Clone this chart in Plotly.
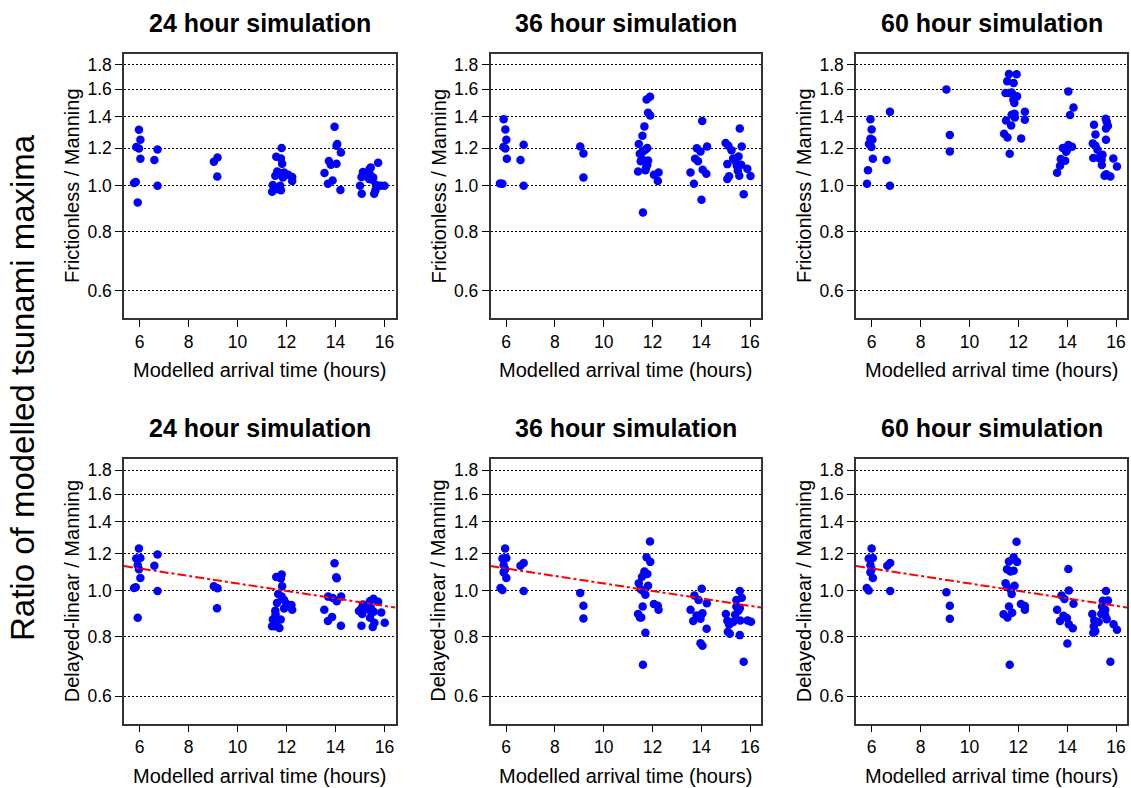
import numpy as np
import plotly.graph_objects as go

# ---------------- data ----------------
titles = ["24 hour simulation", "36 hour simulation", "60 hour simulation"]
row_labels = ["Frictionless / Manning", "Delayed-linear / Manning"]
x_label = "Modelled arrival time (hours)"
big_label = "Ratio of modelled tsunami maxima"
y_ticks = [0.6, 0.8, 1.0, 1.2, 1.4, 1.6, 1.8]
y_tick_text = ["0.6", "0.8", "1.0", "1.2", "1.4", "1.6", "1.8"]
x_ticks = [6, 8, 10, 12, 14, 16]

# trend line (log10 ratio = a + b * hours), bottom row
trend_a = 0.0948
trend_b = -0.00789

fric24_x = [5.97, 6.03, 5.86, 5.97, 6.03, 5.77, 5.84, 5.92, 6.60, 6.73, 6.73,
            9.03, 9.18, 9.17,
            11.80, 11.58, 11.77, 11.82, 11.62, 11.54, 11.71, 11.90, 11.85, 12.07, 12.23, 12.23,
            11.44, 11.41, 11.61, 11.74, 11.77,
            13.96, 14.04, 14.07, 14.22, 13.73, 13.81, 14.04, 13.55, 13.69, 13.88, 14.20,
            15.74, 15.44, 15.39, 15.12, 15.06, 15.16, 15.41, 15.54, 15.37, 15.00, 15.07,
            15.58, 15.63, 15.65, 15.84, 16.00, 15.50]
fric24_y = [1.313, 1.251, 1.207, 1.199, 1.140, 1.013, 1.018, 0.922, 1.133, 1.193, 1.000,
            1.124, 1.148, 1.046,
            1.201, 1.152, 1.142, 1.113, 1.072, 1.050, 1.064, 1.067, 1.041, 1.055, 1.043, 1.023,
            1.003, 0.971, 0.984, 1.000, 0.978,
            1.332, 1.215, 1.225, 1.176, 1.128, 1.108, 1.113, 1.064, 1.010, 1.026, 0.979,
            1.118, 1.093, 1.085, 1.069, 1.043, 1.050, 1.055, 1.041, 1.033, 1.000, 0.962,
            0.962, 0.978, 1.005, 1.000, 1.000, 1.030]

fric36_x = [5.90, 5.97, 6.01, 5.89, 5.97, 6.03, 5.75, 5.85, 6.59, 6.72, 6.72,
            9.04, 9.17, 9.17,
            11.90, 11.76, 11.82, 11.91, 11.67, 11.59, 11.44, 11.79, 11.48, 11.61, 11.71,
            11.57, 11.52, 11.82, 11.79, 11.74, 11.71, 11.41, 12.06, 12.25, 12.22, 11.61,
            14.04, 14.24, 13.82, 13.97, 13.75, 13.87, 14.06, 14.21, 13.56, 13.70, 14.01,
            15.58, 15.00, 15.11, 15.24, 15.66, 15.53, 15.31, 15.40, 15.07, 15.46, 15.64,
            15.50, 15.89, 16.02, 15.14, 15.07, 15.56, 15.74]
fric36_y = [1.383, 1.315, 1.251, 1.207, 1.199, 1.140, 1.011, 1.010, 1.133, 1.221, 1.000,
            1.211, 1.170, 1.041,
            1.543, 1.522, 1.427, 1.408, 1.335, 1.275, 1.225, 1.201, 1.168, 1.182, 1.191,
            1.139, 1.126, 1.131, 1.107, 1.093, 1.078, 1.072, 1.055, 1.067, 1.023, 0.878,
            1.370, 1.211, 1.200, 1.182, 1.140, 1.127, 1.081, 1.060, 1.067, 1.010, 0.934,
            1.322, 1.231, 1.215, 1.188, 1.211, 1.153, 1.142, 1.126, 1.111, 1.102, 1.108,
            1.076, 1.086, 1.048, 1.047, 1.033, 1.050, 0.960]

fric60_x = [5.95, 6.00, 5.95, 6.03, 5.89, 5.99, 6.05, 5.85, 5.81, 6.61, 6.75, 6.75,
            9.06, 9.20, 9.20,
            11.62, 11.93, 11.55, 11.81, 11.48, 11.62, 11.73, 11.95, 11.80, 11.84, 11.73,
            11.85, 12.27, 11.86, 11.50, 12.27, 11.71, 11.42, 11.56, 12.12, 11.65,
            14.05, 14.26, 14.12, 14.05, 14.20, 13.82, 14.00, 13.96, 13.74, 13.92, 13.71, 13.59,
            15.10, 15.16, 15.05, 15.16, 15.24, 15.58, 15.62, 15.67, 15.59, 15.59, 15.07,
            15.29, 15.45, 15.41, 15.42, 15.53, 15.60, 15.77, 15.89, 16.04]
fric60_y = [1.383, 1.315, 1.257, 1.251, 1.225, 1.207, 1.140, 1.078, 1.010, 1.133, 1.434, 1.000,
            1.598, 1.280, 1.182,
            1.722, 1.720, 1.664, 1.648, 1.570, 1.570, 1.575, 1.545, 1.520, 1.496, 1.413,
            1.419, 1.434, 1.394, 1.374, 1.379, 1.341, 1.288, 1.265, 1.259, 1.169,
            1.583, 1.464, 1.411, 1.219, 1.209, 1.201, 1.191, 1.180, 1.139, 1.129, 1.102, 1.065,
            1.346, 1.284, 1.229, 1.215, 1.191, 1.386, 1.366, 1.339, 1.322, 1.251, 1.144,
            1.144, 1.163, 1.135, 1.106, 1.050, 1.057, 1.046, 1.142, 1.098]

dl24_x = [5.97, 5.86, 6.03, 5.92, 5.97, 6.03, 5.77, 5.84, 5.92, 6.60, 6.73, 6.73,
          9.03, 9.18, 9.16,
          11.58, 11.80, 11.77, 11.82, 11.66, 11.80, 11.90, 12.01, 12.20, 12.23, 11.90,
          11.61, 11.54, 11.55, 11.44, 11.61, 11.76, 11.41, 11.55, 11.71,
          13.96, 14.03, 14.05, 13.70, 13.89, 14.23, 14.05, 13.54, 13.86, 13.69, 14.22,
          15.55, 15.74, 15.41, 15.12, 15.06, 14.96, 15.27, 15.45, 15.56, 15.41, 15.87,
          15.59, 15.52, 15.06, 16.01, 15.01, 15.25, 15.36, 15.09]
dl24_y = [1.229, 1.171, 1.174, 1.135, 1.111, 1.065, 1.015, 1.018, 0.878, 1.131, 1.194, 1.000,
          1.023, 1.013, 0.920,
          1.070, 1.083, 1.062, 1.023, 0.986, 0.973, 0.957, 0.939, 0.934, 0.913, 0.919,
          0.943, 0.909, 0.893, 0.871, 0.866, 0.871, 0.843, 0.843, 0.835,
          1.144, 1.069, 1.064, 0.973, 0.966, 0.973, 0.951, 0.913, 0.881, 0.864, 0.845,
          0.963, 0.949, 0.953, 0.937, 0.919, 0.907, 0.927, 0.919, 0.904, 0.878, 0.901,
          0.857, 0.840, 0.845, 0.857, 0.909, 0.929, 0.913, 0.894]

dl36_x = [5.96, 5.85, 6.01, 5.90, 5.96, 5.90, 6.01, 5.77, 5.85, 6.59, 6.72, 6.72,
          9.04, 9.17, 9.17,
          11.90, 11.76, 11.91, 11.67, 11.79, 11.57, 11.44, 11.82, 11.52, 11.61, 11.71,
          11.60, 11.41, 11.49, 11.54, 12.06, 12.25, 12.22, 11.71, 11.61,
          14.02, 13.72, 13.89, 14.23, 13.56, 14.05, 13.81, 13.97, 13.67, 14.22, 13.97, 14.05,
          15.01, 15.07, 15.14, 15.09, 15.17, 15.31, 15.44, 15.39, 15.44, 15.58, 15.66,
          15.58, 15.52, 15.60, 15.58, 15.74, 15.90, 16.04, 15.22]
dl36_y = [1.229, 1.171, 1.174, 1.135, 1.111, 1.095, 1.065, 1.015, 1.005, 1.131, 1.146, 1.000,
          0.990, 0.931, 0.875,
          1.272, 1.178, 1.152, 1.099, 1.086, 1.072, 1.038, 1.026, 1.008, 1.000, 0.982,
          0.927, 0.894, 0.879, 0.879, 0.939, 0.913, 0.931, 0.816, 0.699,
          1.011, 0.978, 0.957, 0.942, 0.913, 0.898, 0.888, 0.874, 0.864, 0.832, 0.776, 0.766,
          0.894, 0.865, 0.850, 0.820, 0.812, 0.860, 0.927, 0.891, 0.957, 1.000, 0.968,
          0.920, 0.909, 0.866, 0.807, 0.709, 0.866, 0.861, 0.857]

dl60_x = [6.00, 5.88, 6.05, 5.95, 5.95, 6.00, 6.05, 5.80, 5.88, 6.64, 6.76, 6.76,
          9.06, 9.20, 9.20,
          11.93, 11.81, 11.62, 11.95, 11.54, 11.68, 11.81, 11.48, 11.85, 11.54, 11.73,
          11.62, 11.40, 11.56, 11.75, 12.11, 12.27, 12.27, 11.65, 11.70,
          14.05, 14.07, 13.77, 13.89, 14.26, 13.59, 13.85, 13.99, 13.71, 14.07, 14.23, 14.01,
          15.03, 15.11, 15.09, 15.07, 15.15, 15.29, 15.43, 15.46, 15.59, 15.67, 15.56,
          15.50, 15.62, 15.56, 15.77, 15.90, 16.04, 15.40]
dl60_y = [1.229, 1.171, 1.174, 1.135, 1.095, 1.111, 1.065, 1.015, 1.002, 1.131, 1.146, 1.000,
          0.994, 0.931, 0.874,
          1.270, 1.178, 1.154, 1.152, 1.111, 1.099, 1.104, 1.038, 1.026, 1.021, 0.986,
          0.927, 0.893, 0.879, 0.900, 0.939, 0.930, 0.913, 0.699, 1.005,
          1.113, 1.002, 0.978, 0.962, 0.940, 0.913, 0.887, 0.877, 0.864, 0.851, 0.834, 0.775,
          0.894, 0.866, 0.842, 0.816, 0.822, 0.860, 0.927, 0.954, 1.000, 0.955, 0.913,
          0.901, 0.872, 0.888, 0.709, 0.851, 0.828, 0.894]

panels = [
    (fric24_x, fric24_y), (fric36_x, fric36_y), (fric60_x, fric60_y),
    (dl24_x, dl24_y), (dl36_x, dl36_y), (dl60_x, dl60_y),
]

# ---------------- layout ----------------
W, H = 1131, 788
FONT = "Liberation Sans, Arial, Helvetica, sans-serif"
col_px = [(124, 395.5), (490.5, 761), (856, 1127)]
row_px = [(54, 318), (459, 723.5)]
x_range = [5.36, 16.45]
y_range = [-0.2796, 0.2785]
TICK_SIZE = 17.5

fig = go.Figure()
layout = dict(
    width=W, height=H,
    margin=dict(l=0, r=0, t=0, b=0),
    paper_bgcolor="white", plot_bgcolor="white",
    showlegend=False,
    font=dict(family=FONT, color="black"),
)
annotations = []

for i, (xs, ys) in enumerate(panels):
    r, c = divmod(i, 3)
    n = i + 1
    xa = "xaxis" if n == 1 else f"xaxis{n}"
    ya = "yaxis" if n == 1 else f"yaxis{n}"
    xref = "x" if n == 1 else f"x{n}"
    yref = "y" if n == 1 else f"y{n}"
    x0, x1 = col_px[c]
    y0, y1 = row_px[r]
    layout[xa] = dict(
        domain=[x0 / W, x1 / W], anchor=yref, range=x_range,
        tickmode="array", tickvals=x_ticks, ticks="outside", ticklen=7,
        tickwidth=1, tickcolor="black", showgrid=False, zeroline=False,
        showline=True, mirror=True, linecolor="#333333", linewidth=1.5,
        tickfont=dict(size=TICK_SIZE, family=FONT, color="black"),
    )
    layout[ya] = dict(
        domain=[1 - y1 / H, 1 - y0 / H], anchor=xref, type="log", range=y_range,
        tickmode="array", tickvals=y_ticks, ticktext=y_tick_text,
        ticks="outside", ticklen=7, tickwidth=1, tickcolor="black",
        showgrid=True, gridcolor="black", gridwidth=1, griddash="2px,2px",
        zeroline=False, showline=True, mirror=True, linecolor="#333333", linewidth=1.5,
        tickfont=dict(size=TICK_SIZE, family=FONT, color="black"),
    )
    fig.add_trace(go.Scatter(
        x=xs, y=ys, mode="markers", xaxis=xref, yaxis=yref,
        marker=dict(color="#0000FF", size=8.5, line=dict(width=0)),
        hoverinfo="skip",
    ))
    if r == 1:
        lx = np.array(x_range)
        ly = 10 ** (trend_a + trend_b * lx)
        fig.add_trace(go.Scatter(
            x=lx, y=ly, mode="lines", xaxis=xref, yaxis=yref,
            line=dict(color="#FF0000", width=2, dash="9px,3px,3px,3px"),
            hoverinfo="skip",
        ))
    cx = (x0 + x1) / 2 / W
    # panel title
    annotations.append(dict(
        text=f"<b>{titles[c]}</b>", x=cx, y=1 - (y0 - 31) / H,
        xref="paper", yref="paper", showarrow=False,
        xanchor="center", yanchor="middle",
        font=dict(size=25, family=FONT, color="black"),
    ))
    # x label
    annotations.append(dict(
        text=x_label, x=cx, y=1 - (y1 + 52) / H,
        xref="paper", yref="paper", showarrow=False,
        xanchor="center", yanchor="middle",
        font=dict(size=20, family=FONT, color="black"),
    ))
    # y label
    annotations.append(dict(
        text=row_labels[r], x=(x0 - 52) / W, y=1 - (y0 + y1) / 2 / H,
        xref="paper", yref="paper", showarrow=False, textangle=-90,
        xanchor="center", yanchor="middle",
        font=dict(size=20, family=FONT, color="black"),
    ))

annotations.append(dict(
    text=big_label, x=22 / W, y=1 - 388 / H,
    xref="paper", yref="paper", showarrow=False, textangle=-90,
    xanchor="center", yanchor="middle",
    font=dict(size=33, family=FONT, color="black"),
))
layout["annotations"] = annotations
fig.update_layout(**layout)
fig.write_html(
    "out.html",
    config={"displayModeBar": False},
    post_script="document.body.style.margin='0';document.body.style.overflow='hidden';",
)
